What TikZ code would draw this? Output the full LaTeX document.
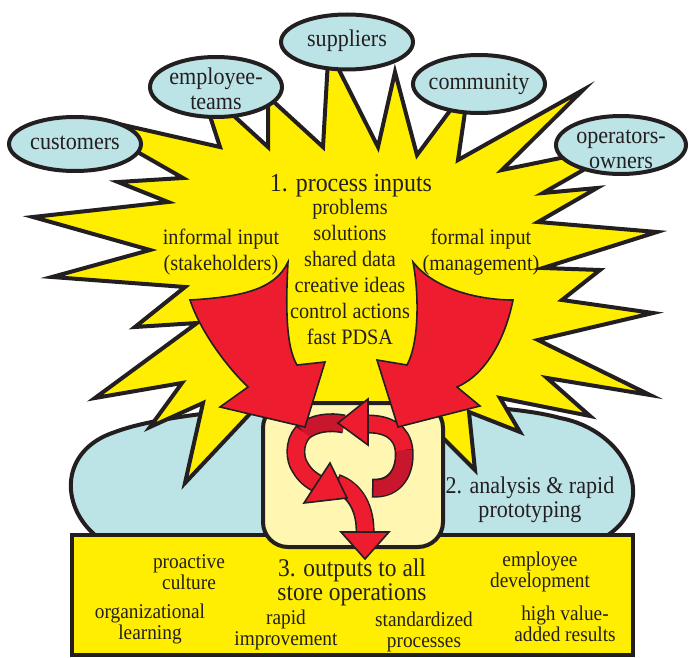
\documentclass[tikz,border=0pt]{standalone}
\usepackage{fontspec}
\setmainfont{Liberation Serif}[FakeStretch=0.92]
\definecolor{ylw}{RGB}{255,238,0}
\definecolor{lblue}{RGB}{188,227,230}
\definecolor{cream}{RGB}{255,246,178}
\definecolor{bred}{RGB}{237,28,46}
\definecolor{dred}{RGB}{200,22,45}
\definecolor{ink}{RGB}{35,31,32}
\begin{document}
\begin{tikzpicture}[x=1pt,y=-1pt,
  outl/.style={draw=ink,line width=4pt},
  thin/.style={draw=ink,line width=1.6pt},
  stake/.style={fill=lblue,draw=ink,line width=4pt},
  lbl/.style={text=ink,align=center,inner sep=0pt,font=\fontsize{22}{26}\selectfont},
  elbl/.style={text=ink,align=center,inner sep=0pt,font=\fontsize{24}{25}\selectfont},
  ttl/.style={text=ink,align=center,inner sep=0pt,font=\fontsize{26}{25}\selectfont},
  ttlb/.style={text=ink,align=center,inner sep=0pt,font=\fontsize{24}{24}\selectfont},
  ttlc/.style={text=ink,align=center,inner sep=0pt,font=\fontsize{25.5}{24}\selectfont},
  sml/.style={text=ink,align=center,inner sep=0pt,font=\fontsize{21}{21.5}\selectfont},
  bandk/.style={draw=ink,line width=19pt},
  bandr/.style={draw=bred,line width=15.8pt},
  bandd/.style={draw=dred,line width=15.8pt},
  headr/.style={fill=bred,draw=ink,line width=1.6pt,line join=miter}
]
\useasboundingbox (0,0) rectangle (689,658);

% blue blob (analysis)
\path[stake] (95,535) .. controls (60,505) and (60,450) .. (115,432)
  .. controls (200,400) and (480,395) .. (560,418)
  .. controls (625,430) and (660,500) .. (608,535) -- cycle;

% starburst (process inputs)
\path[outl,fill=ylw] (110,122) -- (220,147) -- (208,110) -- (222,105) -- (268,147)
  -- (268,100) -- (262,91) -- (323,147) -- (328,60) -- (335,62) -- (378,147)
  -- (395,72) -- (417,155) -- (452,108) -- (466,105) -- (458,160) -- (583,90)
  -- (502,170) -- (580,154) -- (592,165) -- (543,193) -- (597,188) -- (538,222)
  -- (657,232) -- (543,268) -- (600,270) -- (562,300) -- (653,313) -- (538,340)
  -- (650,395) -- (547,378) -- (590,416) -- (500,398) -- (520,432) -- (469,412)
  -- (475,470) -- (430,425) -- (280,420) -- (262,401) -- (185,483) -- (203,403)
  -- (150,427) -- (182,383) -- (95,398) -- (197,323) -- (135,327) -- (185,287)
  -- (52,277) -- (150,250) -- (33,217) -- (168,202) -- (118,182) -- (183,178)
  -- (120,142) -- cycle;

% bottom box (outputs)
\path[outl,fill=ylw] (72,535) rectangle (633,655);

% cream box (analysis core)
\path[outl,fill=cream,rounded corners=25pt] (263,403) rectangle (443,547);

% small arrow 3 (bottom)
\draw[bandk] (336,483) .. controls (356,490) and (366,510) .. (365,534);
\draw[bandr,shorten <=1.6pt] (336,483) .. controls (356,490) and (366,510) .. (365,534);
\path[headr] (341,532) -- (365,559) -- (389,532) -- cycle;

% small arrow 2 (left loop)
\draw[bandk] (344,424) .. controls (330,421) and (313,423) .. (303,432)
  .. controls (293,443) and (295,460) .. (300,467) .. controls (305,476) and (311,480) .. (318,484);
\draw[bandd] (344,424) .. controls (330,421) and (313,423) .. (303,432);
\draw[bandr] (303,432) .. controls (293,443) and (295,460) .. (300,467) .. controls (305,476) and (311,480) .. (318,484);
\path[headr] (330,463) -- (347,498) -- (304,503) -- cycle;

% small arrow 1 (right loop)
\draw[bandk] (372,488) .. controls (396,490) and (406,470) .. (404,450)
  .. controls (402,432) and (388,424) .. (368,424);
\draw[bandd,shorten <=1.6pt] (372,488) .. controls (396,490) and (406,470) .. (404,450);
\draw[bandr] (404,450) .. controls (402,432) and (388,424) .. (368,424);
\path[headr] (368,399) -- (338,423) -- (368,445) -- cycle;

% big red arrows
\path[fill=bred,thin,line join=miter] (190,300) .. controls (240,297) and (275,290) .. (288,262)
  .. controls (286,300) and (285,345) .. (297,365) -- (325,362) -- (305,427)
  -- (220,407) -- (248,387) .. controls (225,365) and (200,330) .. (190,300) -- cycle;
\path[fill=bred,thin,line join=miter] (413,262) .. controls (435,290) and (480,300) .. (513,300)
  .. controls (505,340) and (485,375) .. (457,387) -- (480,406) -- (398,427)
  -- (377,360) -- (407,365) .. controls (418,345) and (420,300) .. (413,262) -- cycle;

% stakeholder ellipses
\path[stake] (75,144) ellipse [x radius=66, y radius=27];
\path[stake] (216,87) ellipse [x radius=66, y radius=30];
\path[stake] (347,42) ellipse [x radius=66, y radius=27.5];
\path[stake] (479,84) ellipse [x radius=66, y radius=29];
\path[stake] (621,145) ellipse [x radius=65, y radius=29];

\node[elbl] (cust) at (75,143) {customers};
\node[elbl] (emp) at (216,89) {employee-\\teams};
\node[elbl] (sup) at (347,41) {suppliers};
\node[elbl] (com) at (479,84) {community};
\node[elbl] (ops) at (621,149) {operators-\\owners};

% texts
\node[ttl] (t1) at (351,186) {1. process inputs};
\node[lbl,anchor=north] (items) at (350,199) {problems\\solutions\\shared data\\creative ideas\\control actions\\fast PDSA};
\node[lbl] (inf) at (221,252) {informal input\\(stakeholders)};
\node[lbl] (frm) at (481,252) {formal input\\(management)};
\node[ttlb] (t2) at (530,500) {2. analysis \& rapid\\prototyping};
\node[ttlc] (t3) at (352,582) {3. outputs to all\\store operations};
\node[sml] (o1) at (189,572) {proactive\\culture};
\node[sml] (o2) at (540,572) {employee\\development};
\node[sml] (o3) at (150,624) {organizational\\learning};
\node[sml] (o4) at (286,630) {rapid\\improvement};
\node[sml] (o5) at (424,632) {standardized\\processes};
\node[sml] (o6) at (565,624) {high value-\\added results};
\end{tikzpicture}
\end{document}
